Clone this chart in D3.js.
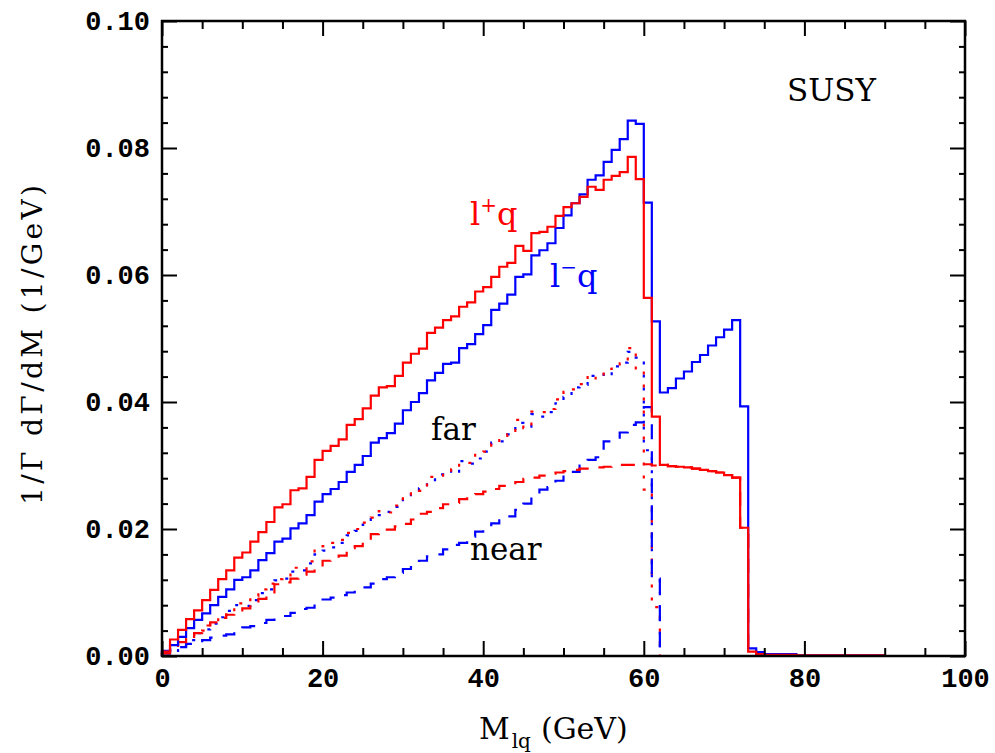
<!DOCTYPE html>
<html>
<head>
<meta charset="utf-8">
<script src="https://cdn.jsdelivr.net/npm/d3@7"></script>
<style>
  body { margin: 0; background: #fff; }
  .tick text { font-family: "Liberation Mono", monospace; font-weight: bold; font-size: 27px; fill: #000; }
  .lbl { font-family: "DejaVu Serif", serif; }
</style>
</head>
<body>
<div id="chart"></div>
<script>
// tick values and labels
const xTickValues = [0, 20, 40, 60, 80, 100];
const xTickLabels = ["0", "20", "40", "60", "80", "100"];
const yTickValues = [0, 0.02, 0.04, 0.06, 0.08, 0.10];
const yTickLabels = ["0.00", "0.02", "0.04", "0.06", "0.08", "0.10"];
const xMinorTicks = [5, 10, 15, 25, 30, 35, 45, 50, 55, 65, 70, 75, 85, 90, 95];
const yMinorTicks = [0.004, 0.008, 0.012, 0.016, 0.024, 0.028, 0.032, 0.036, 0.044, 0.048, 0.052, 0.056,
                     0.064, 0.068, 0.072, 0.076, 0.084, 0.088, 0.092, 0.096];

// histograms, 1 GeV bins starting at M = 0
const lPlusTotal = [0.0007, 0.0026, 0.0041, 0.0058, 0.0072, 0.0088, 0.0104, 0.0121, 0.0135, 0.0155,
  0.0163, 0.0180, 0.0195, 0.0211, 0.0234, 0.0239, 0.0261, 0.0264, 0.0282, 0.0309,
  0.0323, 0.0331, 0.0341, 0.0364, 0.0373, 0.0390, 0.0410, 0.0423, 0.0425, 0.0441,
  0.0462, 0.0476, 0.0484, 0.0509, 0.0517, 0.0529, 0.0535, 0.0550, 0.0557, 0.0574,
  0.0581, 0.0597, 0.0613, 0.0619, 0.0646, 0.0638, 0.0666, 0.0668, 0.0676, 0.0693,
  0.0707, 0.0713, 0.0723, 0.0739, 0.0734, 0.0750, 0.0756, 0.0762, 0.0786, 0.0751,
  0.0564, 0.0377, 0.0301, 0.0299, 0.0298, 0.0297, 0.0295, 0.0293, 0.0291, 0.0289,
  0.0285, 0.0281, 0.0202, 0.0007, 0.0003, 0.0002, 0.0002, 0.0002, 0.0002, 0.0001,
  0.0001, 0.0001, 0.0001, 0.0001, 0.0001, 0.0001, 0.0001, 0.0001, 0.0001, 0.0001];

const lMinusTotal = [0.0008, 0.0017, 0.0030, 0.0044, 0.0057, 0.0067, 0.0080, 0.0093, 0.0105, 0.0120,
  0.0124, 0.0135, 0.0151, 0.0162, 0.0180, 0.0185, 0.0201, 0.0209, 0.0222, 0.0243,
  0.0255, 0.0263, 0.0274, 0.0290, 0.0301, 0.0315, 0.0336, 0.0343, 0.0351, 0.0366,
  0.0387, 0.0400, 0.0414, 0.0434, 0.0446, 0.0460, 0.0462, 0.0485, 0.0491, 0.0507,
  0.0521, 0.0545, 0.0555, 0.0569, 0.0597, 0.0601, 0.0631, 0.0639, 0.0650, 0.0674,
  0.0694, 0.0713, 0.0727, 0.0750, 0.0757, 0.0778, 0.0797, 0.0814, 0.0843, 0.0838,
  0.0714, 0.0527, 0.0415, 0.0422, 0.0437, 0.0448, 0.0463, 0.0474, 0.0489, 0.0502,
  0.0514, 0.0529, 0.0393, 0.0012, 0.0006, 0.0003, 0.0003, 0.0003, 0.0003, 0.0001,
  0.0001, 0.0001, 0.0001, 0.0001, 0.0001, 0.0001, 0.0001, 0.0001, 0.0001, 0.0001];

const lPlusNear = [0.0004, 0.0012, 0.0022, 0.0030, 0.0036, 0.0048, 0.0053, 0.0060, 0.0065, 0.0072,
  0.0075, 0.0086, 0.0090, 0.0097, 0.0113, 0.0116, 0.0122, 0.0128, 0.0133, 0.0140,
  0.0150, 0.0153, 0.0158, 0.0170, 0.0173, 0.0180, 0.0192, 0.0195, 0.0199, 0.0204,
  0.0208, 0.0215, 0.0224, 0.0227, 0.0233, 0.0239, 0.0241, 0.0247, 0.0253, 0.0255,
  0.0259, 0.0263, 0.0268, 0.0270, 0.0274, 0.0279, 0.0281, 0.0284, 0.0287, 0.0289,
  0.0291, 0.0293, 0.0295, 0.0297, 0.0297, 0.0298, 0.0299, 0.0301, 0.0301, 0.0300,
  0.0302, 0.0300, 0.0301, 0.0299, 0.0298, 0.0297, 0.0295, 0.0293, 0.0291, 0.0289,
  0.0285, 0.0281, 0.0202, 0.0007, 0.0003];

const lPlusFar = [0.0003, 0.0014, 0.0019, 0.0028, 0.0036, 0.0040, 0.0051, 0.0061, 0.0070, 0.0083,
  0.0088, 0.0094, 0.0105, 0.0114, 0.0121, 0.0123, 0.0139, 0.0136, 0.0149, 0.0169,
  0.0173, 0.0178, 0.0183, 0.0194, 0.0200, 0.0210, 0.0218, 0.0228, 0.0226, 0.0237,
  0.0254, 0.0261, 0.0260, 0.0282, 0.0284, 0.0290, 0.0294, 0.0303, 0.0304, 0.0319,
  0.0322, 0.0334, 0.0345, 0.0349, 0.0372, 0.0359, 0.0385, 0.0384, 0.0389, 0.0404,
  0.0416, 0.0420, 0.0428, 0.0442, 0.0437, 0.0452, 0.0457, 0.0461, 0.0485, 0.0451,
  0.0262, 0.0077, 0, 0, 0, 0, 0, 0, 0, 0,
  0, 0, 0, 0, 0];

const lMinusNear = [0.0004, 0.0009, 0.0014, 0.0019, 0.0021, 0.0025, 0.0029, 0.0032, 0.0034, 0.0040,
  0.0045, 0.0047, 0.0052, 0.0057, 0.0061, 0.0063, 0.0068, 0.0074, 0.0076, 0.0083,
  0.0089, 0.0092, 0.0096, 0.0100, 0.0104, 0.0108, 0.0114, 0.0121, 0.0124, 0.0131,
  0.0137, 0.0140, 0.0150, 0.0157, 0.0160, 0.0168, 0.0175, 0.0178, 0.0188, 0.0196,
  0.0199, 0.0209, 0.0217, 0.0220, 0.0230, 0.0240, 0.0250, 0.0262, 0.0266, 0.0276,
  0.0286, 0.0290, 0.0300, 0.0309, 0.0313, 0.0338, 0.0341, 0.0352, 0.0364, 0.0368,
  0.0392, 0.0122, 0, 0, 0, 0, 0, 0, 0, 0,
  0, 0, 0, 0, 0];

const lMinusFar = [0.0004, 0.0008, 0.0016, 0.0025, 0.0036, 0.0042, 0.0051, 0.0061, 0.0071, 0.0080,
  0.0079, 0.0088, 0.0099, 0.0105, 0.0119, 0.0122, 0.0133, 0.0135, 0.0146, 0.0160,
  0.0166, 0.0171, 0.0178, 0.0190, 0.0197, 0.0207, 0.0222, 0.0222, 0.0227, 0.0235,
  0.0250, 0.0260, 0.0264, 0.0277, 0.0286, 0.0292, 0.0287, 0.0307, 0.0303, 0.0311,
  0.0322, 0.0336, 0.0338, 0.0349, 0.0367, 0.0361, 0.0381, 0.0377, 0.0384, 0.0398,
  0.0408, 0.0423, 0.0427, 0.0441, 0.0444, 0.0440, 0.0456, 0.0462, 0.0479, 0.0470,
  0.0324, 0.0122, 0, 0, 0, 0, 0, 0, 0, 0,
  0, 0, 0, 0, 0];

let margin = {top: 21, right: 30, bottom: 97, left: 162},
    width = 995 - margin.left - margin.right,
    height = 753 - margin.top - margin.bottom;

let svg = d3.select("#chart")
  .append("svg")
    .attr("width", 995)
    .attr("height", 753);

let chart = svg.append("g")
    .attr("transform", "translate(" + margin.left + "," + margin.top + ")");

let x = d3.scaleLinear().domain([0, 100]).range([0, width]);
let y = d3.scaleLinear().domain([0, 0.10]).range([height, 0]);

// step histogram: up from the baseline, one flat top per bin, back down at the end
let step = d3.line()
  .x(function(d) { return x(d[0]); })
  .y(function(d) { return y(d[1]); })
  .curve(d3.curveStepAfter);

function histPoints(vals) {
  let pts = [[0, 0]];
  vals.forEach(function(v, i) { pts.push([i, v]); });
  pts.push([vals.length, 0]);
  return pts;
}

let series = [
  {vals: lMinusFar,   color: "#0000ff", dash: "3,10",  offset: 6},
  {vals: lPlusFar,    color: "#ff0000", dash: "3,10",  offset: 0},
  {vals: lMinusNear,  color: "#0000ff", dash: "15,12", offset: 0},
  {vals: lPlusNear,   color: "#ff0000", dash: "14,11", offset: 0},
  {vals: lMinusTotal, color: "#0000ff", dash: null,    offset: 0},
  {vals: lPlusTotal,  color: "#ff0000", dash: null,    offset: 0}
];

series.forEach(function(s) {
  chart.append("path")
    .attr("d", step(histPoints(s.vals)))
    .attr("fill", "none")
    .attr("stroke", s.color)
    .attr("stroke-width", 2.2)
    .attr("stroke-dasharray", s.dash)
    .attr("stroke-dashoffset", s.offset);
});

// axes: major ticks inward with labels, minor ticks without, mirrored on top and right
function styleAxis(g) {
  g.select(".domain").remove();
  g.selectAll(".tick line").attr("stroke", "#000").attr("stroke-width", 2);
}

chart.append("g")
  .attr("transform", "translate(0," + height + ")")
  .call(d3.axisBottom(x).tickValues(xTickValues)
    .tickFormat(function(d, i) { return xTickLabels[i]; })
    .tickSize(-15).tickPadding(12))
  .call(styleAxis);

chart.append("g")
  .attr("transform", "translate(0," + height + ")")
  .call(d3.axisBottom(x).tickValues(xMinorTicks).tickFormat("").tickSize(-8))
  .call(styleAxis);

chart.append("g")
  .call(d3.axisTop(x).tickValues(xTickValues).tickFormat("").tickSize(-15))
  .call(styleAxis);

chart.append("g")
  .call(d3.axisTop(x).tickValues(xMinorTicks).tickFormat("").tickSize(-8))
  .call(styleAxis);

chart.append("g")
  .call(d3.axisLeft(y).tickValues(yTickValues)
    .tickFormat(function(d, i) { return yTickLabels[i]; })
    .tickSize(-15).tickPadding(12))
  .call(styleAxis);

chart.append("g")
  .call(d3.axisLeft(y).tickValues(yMinorTicks).tickFormat("").tickSize(-6))
  .call(styleAxis);

chart.append("g")
  .attr("transform", "translate(" + width + ",0)")
  .call(d3.axisRight(y).tickValues(yTickValues).tickFormat("").tickSize(-15))
  .call(styleAxis);

chart.append("g")
  .attr("transform", "translate(" + width + ",0)")
  .call(d3.axisRight(y).tickValues(yMinorTicks).tickFormat("").tickSize(-6))
  .call(styleAxis);

// frame
chart.append("rect")
  .attr("width", width)
  .attr("height", height)
  .attr("fill", "none")
  .attr("stroke", "#000")
  .attr("stroke-width", 2.5);

// axis titles
svg.append("text")
  .attr("class", "lbl")
  .attr("transform", "translate(42,345) rotate(-90)")
  .attr("text-anchor", "middle")
  .attr("font-size", 28)
  .attr("textLength", 320)
  .attr("lengthAdjust", "spacing")
  .text("1/Γ dΓ/dM (1/GeV)");

let xt = svg.append("text")
  .attr("class", "lbl")
  .attr("x", 479)
  .attr("y", 739)
  .attr("font-size", 30);
xt.append("tspan").text("M");
xt.append("tspan").attr("font-size", 20).attr("dx", 2).attr("dy", 9).text("lq");
xt.append("tspan").attr("dx", 10).attr("dy", -9).text("(GeV)");

// in-plot labels
svg.append("text")
  .attr("class", "lbl")
  .attr("x", 787).attr("y", 101)
  .attr("font-size", 31)
  .text("SUSY");

let lp = svg.append("text")
  .attr("class", "lbl")
  .attr("x", 470).attr("y", 225)
  .attr("font-size", 32)
  .attr("fill", "#ff0000");
lp.append("tspan").text("l");
lp.append("tspan").attr("font-size", 20).attr("dy", -13).text("+");
lp.append("tspan").attr("dy", 13).text("q");

let lm = svg.append("text")
  .attr("class", "lbl")
  .attr("x", 550).attr("y", 287)
  .attr("font-size", 32)
  .attr("fill", "#0000ff");
lm.append("tspan").text("l");
lm.append("tspan").attr("font-size", 20).attr("dy", -13).text("\u2212");
lm.append("tspan").attr("dy", 13).text("q");

svg.append("text")
  .attr("class", "lbl")
  .attr("x", 431).attr("y", 440)
  .attr("font-size", 31)
  .text("far");

svg.append("text")
  .attr("class", "lbl")
  .attr("x", 470).attr("y", 560)
  .attr("font-size", 31)
  .text("near");
</script>
</body>
</html>
